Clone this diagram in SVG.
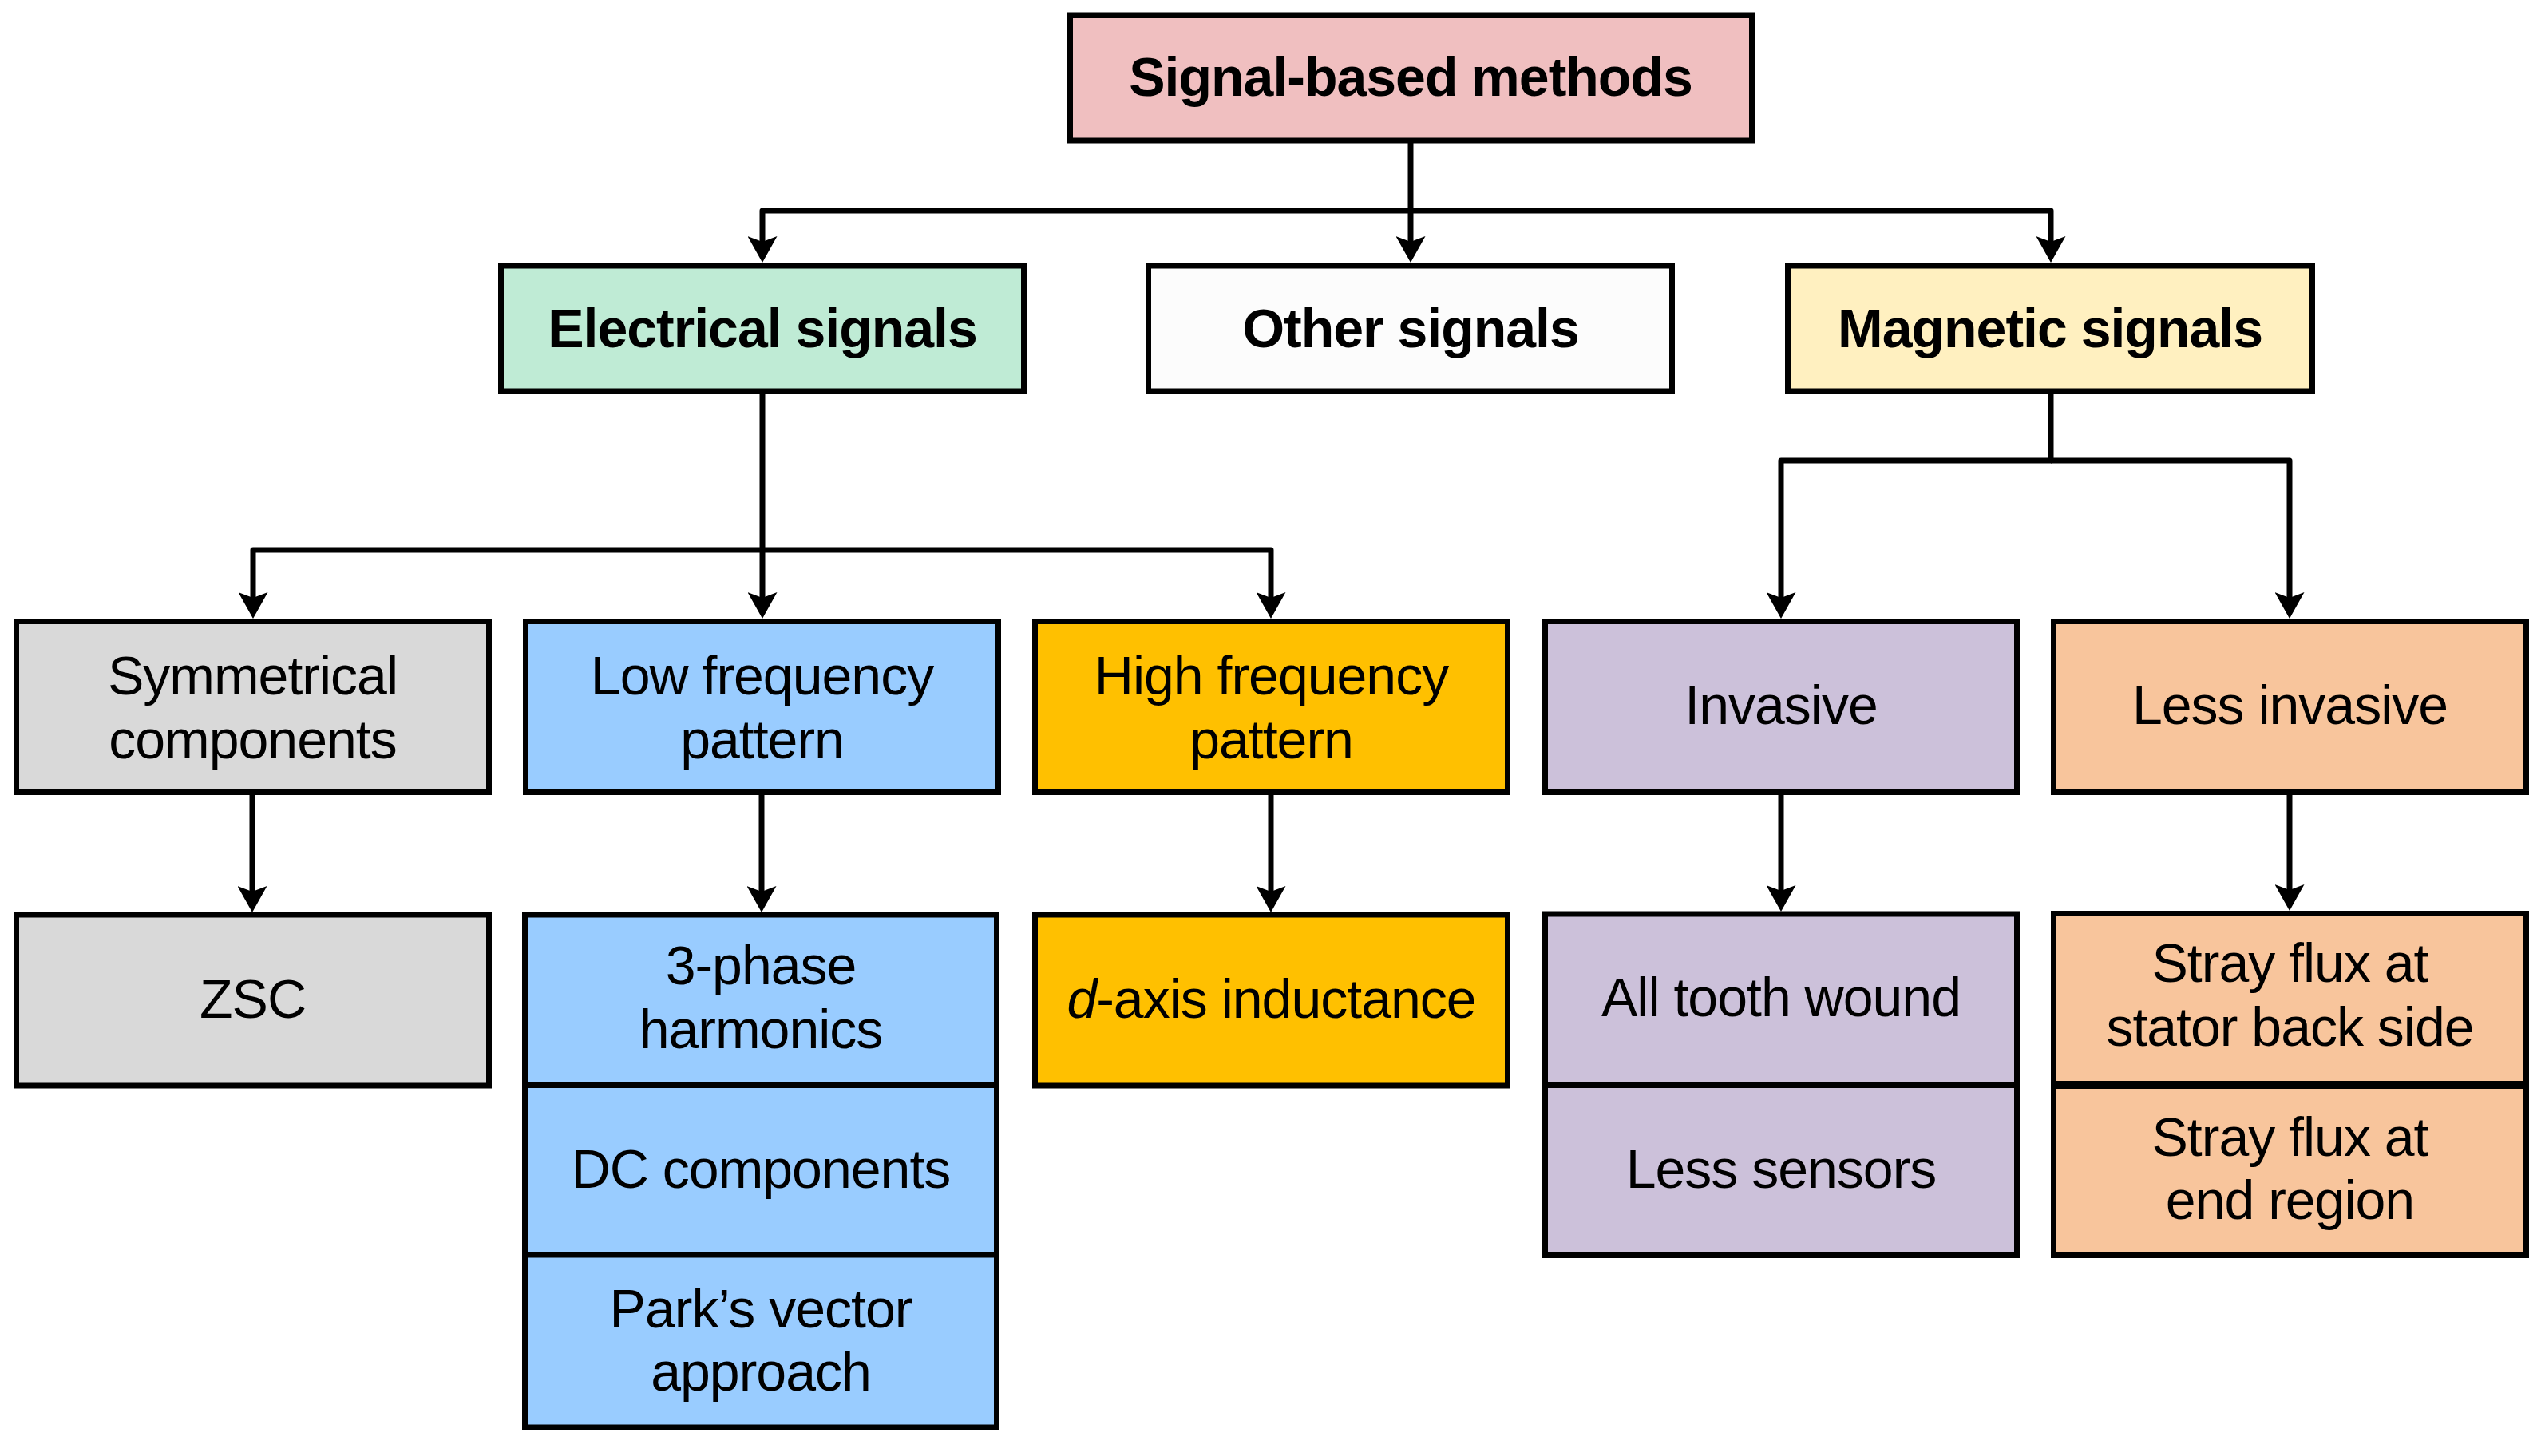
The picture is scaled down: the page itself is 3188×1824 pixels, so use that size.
<svg xmlns="http://www.w3.org/2000/svg" width="3188" height="1824" viewBox="0 0 3188 1824">
<defs>
<style>
.box{stroke:#000;stroke-width:7;stroke-linejoin:miter}
.t{font-family:"Liberation Sans",Arial,Helvetica,sans-serif;font-size:68px;letter-spacing:-1px;text-anchor:middle;fill:#000}
.b{font-weight:bold}
.con{fill:none;stroke:#000;stroke-width:7;stroke-linejoin:round;marker-end:url(#arr)}
</style>
<marker id="arr" viewBox="0 0 33 37" markerWidth="33" markerHeight="37" refX="8" refY="18.5" orient="auto" markerUnits="userSpaceOnUse">
<path d="M0,0 L33,18.5 L0,37 L7,18.5 Z" fill="#000"/>
</marker>
</defs>
<rect width="3188" height="1824" fill="#fff"/>
<g id="connectors">
<path class="con" d="M1767,176 V304"/>
<path class="con" d="M1767,264 H955 V304"/>
<path class="con" d="M1767,264 H2569 V304"/>
<path class="con" d="M955,490 V750"/>
<path class="con" d="M955,689 H317 V750"/>
<path class="con" d="M955,689 H1592 V750"/>
<path class="con" d="M2569,490 V577 H2231 V750"/>
<path class="con" d="M2569,577 H2868 V750"/>
<path class="con" d="M316,993 V1118"/>
<path class="con" d="M954,993 V1118"/>
<path class="con" d="M1592,993 V1118"/>
<path class="con" d="M2231,993 V1117"/>
<path class="con" d="M2868,993 V1116"/>
</g>
<g id="signal-based">
<rect class="box" x="1340.5" y="19" width="854" height="157" fill="#F0BFC0"/>
<text class="t b" x="1767" y="120">Signal-based methods</text>
</g>
<g id="electrical">
<rect class="box" x="627.5" y="333" width="655" height="157" fill="#BFEBD5"/>
<text class="t b" x="955" y="435">Electrical signals</text>
</g>
<g id="other">
<rect class="box" x="1438.5" y="333" width="656" height="157" fill="#FCFCFC"/>
<text class="t b" x="1767" y="435">Other signals</text>
</g>
<g id="magnetic">
<rect class="box" x="2239.5" y="333" width="657" height="157" fill="#FFF0C0"/>
<text class="t b" x="2568" y="435">Magnetic signals</text>
</g>
<g id="symmetrical">
<rect class="box" x="20.5" y="778.5" width="592" height="214" fill="#D9D9D9"/>
<text class="t" x="316.5" y="870">Symmetrical</text>
<text class="t" x="316.5" y="950">components</text>
</g>
<g id="low-frequency">
<rect class="box" x="658.5" y="778.5" width="592" height="214" fill="#99CCFF"/>
<text class="t" x="954.5" y="870">Low frequency</text>
<text class="t" x="954.5" y="950">pattern</text>
</g>
<g id="high-frequency">
<rect class="box" x="1296.5" y="778.5" width="592" height="214" fill="#FFC000"/>
<text class="t" x="1592.5" y="870">High frequency</text>
<text class="t" x="1592.5" y="950">pattern</text>
</g>
<g id="invasive">
<rect class="box" x="1935.5" y="778.5" width="591" height="214" fill="#CCC1DA"/>
<text class="t" x="2231" y="907">Invasive</text>
</g>
<g id="less-invasive">
<rect class="box" x="2572.5" y="778.5" width="592" height="214" fill="#F8C59C"/>
<text class="t" x="2868.5" y="907">Less invasive</text>
</g>
<g id="zsc">
<rect class="box" x="20.5" y="1146" width="592" height="214" fill="#D9D9D9"/>
<text class="t" x="316.5" y="1275">ZSC</text>
</g>
<g id="three-phase">
<rect class="box" x="657.5" y="1146" width="591" height="213.5" fill="#99CCFF"/>
<text class="t" x="953" y="1233">3-phase</text>
<text class="t" x="953" y="1313">harmonics</text>
</g>
<g id="dc-components">
<rect class="box" x="657.5" y="1359.5" width="591" height="212.5" fill="#99CCFF"/>
<text class="t" x="953" y="1488">DC components</text>
</g>
<g id="parks-vector">
<rect class="box" x="657.5" y="1572" width="591" height="216" fill="#99CCFF"/>
<text class="t" x="953" y="1663">Park’s vector</text>
<text class="t" x="953" y="1742">approach</text>
</g>
<g id="d-axis">
<rect class="box" x="1296.5" y="1146" width="592" height="214" fill="#FFC000"/>
<text class="t" x="1592.5" y="1275"><tspan font-style="italic">d</tspan>-axis inductance</text>
</g>
<g id="all-tooth">
<rect class="box" x="1935.5" y="1145" width="591" height="214.5" fill="#CCC1DA"/>
<text class="t" x="2231" y="1273">All tooth wound</text>
</g>
<g id="less-sensors">
<rect class="box" x="1935.5" y="1359.5" width="591" height="213" fill="#CCC1DA"/>
<text class="t" x="2231" y="1488">Less sensors</text>
</g>
<g id="stray-back">
<rect class="box" x="2572.5" y="1144.5" width="592" height="213" fill="#F8C59C"/>
<text class="t" x="2868.5" y="1230">Stray flux at</text>
<text class="t" x="2868.5" y="1310">stator back side</text>
</g>
<g id="stray-end">
<rect class="box" x="2572.5" y="1360.5" width="592" height="212" fill="#F8C59C"/>
<text class="t" x="2868.5" y="1448">Stray flux at</text>
<text class="t" x="2868.5" y="1527">end region</text>
</g>
</svg>
